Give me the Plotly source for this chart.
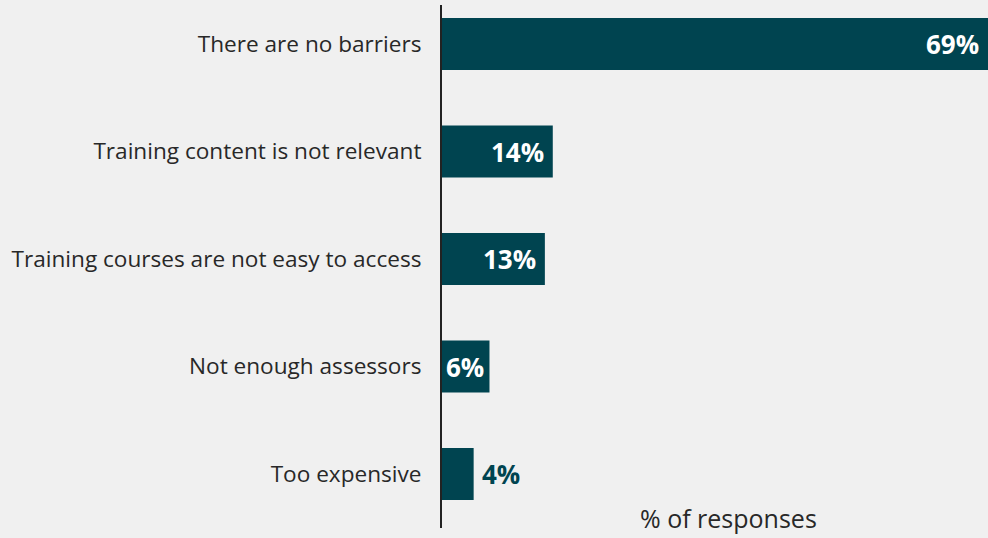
import plotly.graph_objects as go

categories = [
    "There are no barriers",
    "Training content is not relevant",
    "Training courses are not easy to access",
    "Not enough assessors",
    "Too expensive",
]
values = [69, 14, 13, 6, 4]
value_labels = ["69%", "14%", "13%", "6%", "4%"]
label_inside = [True, True, True, True, False]

BAR = "#004450"
BG = "#f0f0f0"
TEXT = "#282828"

fig = go.Figure(
    go.Bar(
        x=values,
        y=categories,
        orientation="h",
        marker=dict(color=BAR, line=dict(width=0)),
        width=0.485,
        hoverinfo="skip",
    )
)

# value labels: white inside the bar end, or teal just past a short bar
annotations = []
for cat, val, lab, inside in zip(categories, values, value_labels, label_inside):
    if inside:
        shift = -3 if val < 10 else -7
    else:
        shift = 6
    annotations.append(
        dict(
            x=val,
            y=cat,
            xref="x",
            yref="y",
            text=f"<b>{lab}</b>",
            showarrow=False,
            xanchor="right" if inside else "left",
            xshift=shift,
            yanchor="middle",
            font=dict(family="Open Sans", size=26, color="#ffffff" if inside else BAR),
        )
    )

annotations.append(
    dict(
        text="% of responses",
        x=0.524,
        y=(538 - 10 - 518) / 523,
        xref="paper",
        yref="paper",
        showarrow=False,
        font=dict(family="Open Sans", size=25, color=TEXT),
        xanchor="center",
        yanchor="middle",
    )
)

fig.update_layout(
    width=988,
    height=538,
    paper_bgcolor=BG,
    plot_bgcolor=BG,
    margin=dict(l=442, r=0, t=5, b=10),
    showlegend=False,
    font=dict(family="Open Sans", color=TEXT),
    xaxis=dict(
        range=[0, 69],
        showgrid=False,
        zeroline=False,
        showticklabels=False,
        ticks="",
        fixedrange=True,
    ),
    yaxis=dict(
        categoryorder="array",
        categoryarray=categories,
        range=[4.502, -0.363],
        showgrid=False,
        zeroline=False,
        showline=True,
        linecolor="#222222",
        linewidth=2,
        ticks="",
        ticklabelstandoff=14,
        tickfont=dict(family="Open Sans", size=22.6, color=TEXT),
        fixedrange=True,
    ),
    annotations=annotations,
)

fig.write_html("out.html")
